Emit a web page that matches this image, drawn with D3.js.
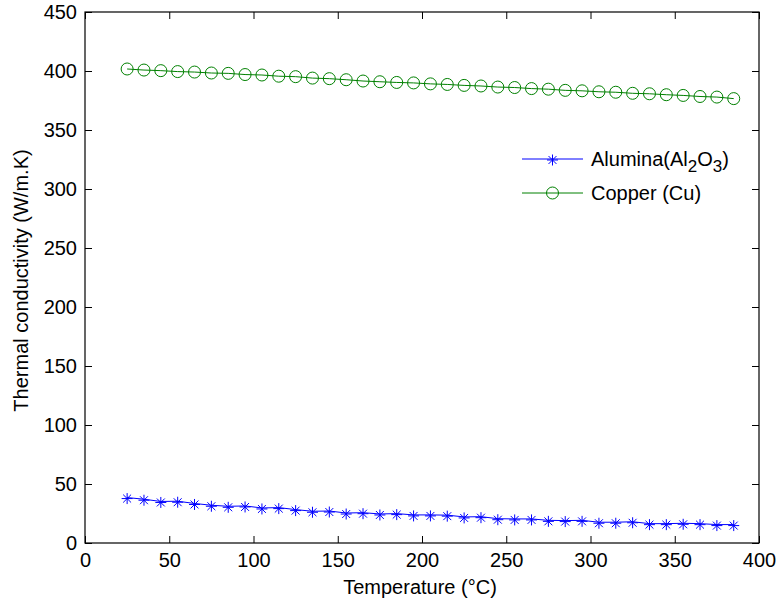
<!DOCTYPE html>
<html>
<head>
<meta charset="utf-8">
<script src="https://cdn.jsdelivr.net/npm/d3@7"></script>
<style>
  html, body { margin: 0; padding: 0; background: #fff; }
  svg { display: block; font-family: "Liberation Sans", Arial, sans-serif; }
</style>
</head>
<body>
<svg id="chart" width="781" height="602"></svg>
<script>
// ---- Data ----
const temperatures = [25, 35, 45, 55, 65, 75, 85, 95, 105, 115, 125, 135, 145, 155, 165, 175, 185, 195, 205, 215, 225, 235, 245, 255, 265, 275, 285, 295, 305, 315, 325, 335, 345, 355, 365, 375, 385];
const copperValues = [401.7, 400.8, 400.3, 399.5, 399.1, 398.3, 398.0, 397.0, 396.6, 395.6, 395.2, 394.0, 393.5, 392.6, 391.5, 390.9, 390.3, 389.9, 389.1, 388.6, 387.8, 387.3, 386.4, 386.0, 385.1, 384.6, 383.6, 383.2, 382.4, 382.0, 381.1, 380.7, 379.9, 379.3, 378.4, 377.9, 376.6];
const aluminaValues = [38.5, 37.1, 35.2, 35.4, 33.5, 32.0, 31.1, 31.4, 29.7, 30.0, 28.3, 26.9, 27.1, 25.4, 25.7, 24.6, 24.9, 23.8, 23.8, 23.6, 22.1, 22.3, 20.6, 20.4, 20.4, 19.2, 19.0, 19.2, 17.6, 17.6, 18.0, 16.4, 16.4, 16.7, 16.4, 15.6, 15.6];
const xTicks = [0, 50, 100, 150, 200, 250, 300, 350, 400];
const yTicks = [0, 50, 100, 150, 200, 250, 300, 350, 400, 450];
const xLabel = "Temperature (\u00B0C)";
const yLabel = "Thermal conductivity (W/m.K)";

// ---- Layout ----
const L = 85, R = 759, T = 12, B = 543;
const svg = d3.select("#chart");
const x = d3.scaleLinear().domain([0, 400]).range([L, R]);
const y = d3.scaleLinear().domain([0, 450]).range([B, T]);
const fs = 20;
const tickLen = 7;

const axB = svg.append("g").attr("transform", `translate(0,${B})`)
  .call(d3.axisBottom(x).tickValues(xTicks).tickSizeInner(-tickLen).tickSizeOuter(0).tickPadding(10));
const axT = svg.append("g").attr("transform", `translate(0,${T})`)
  .call(d3.axisTop(x).tickValues(xTicks).tickSizeInner(-tickLen).tickSizeOuter(0).tickFormat(""));
const axL = svg.append("g").attr("transform", `translate(${L},0)`)
  .call(d3.axisLeft(y).tickValues(yTicks).tickSizeInner(-tickLen).tickSizeOuter(0).tickPadding(8));
const axR = svg.append("g").attr("transform", `translate(${R},0)`)
  .call(d3.axisRight(y).tickValues(yTicks).tickSizeInner(-tickLen).tickSizeOuter(0).tickFormat(""));
[axB, axT, axL, axR].forEach(g => {
  g.select(".domain").remove();
  g.selectAll("line").attr("stroke", "#000").attr("stroke-width", 1);
  g.selectAll("text").attr("font-size", fs).attr("fill", "#000")
    .attr("font-family", "Liberation Sans, Arial, sans-serif");
});

// Box
svg.append("rect").attr("x", L).attr("y", T).attr("width", R - L).attr("height", B - T)
  .attr("fill", "none").attr("stroke", "#000").attr("stroke-width", 1.2);

// Axis titles
svg.append("text").attr("x", (L + R) / 2 - 2).attr("y", 594).attr("text-anchor", "middle")
  .attr("font-size", fs).text(xLabel);
svg.append("text").attr("transform", `translate(28,${(T + B) / 2 + 3}) rotate(-90)`)
  .attr("text-anchor", "middle").attr("font-size", fs).text(yLabel);

const green = "#008000", blue = "#0000ff";
const line = d3.line().x(d => x(d[0])).y(d => y(d[1]));
const copper = temperatures.map((t, i) => [t, copperValues[i]]);
const alumina = temperatures.map((t, i) => [t, aluminaValues[i]]);

// Copper
svg.append("path").datum(copper).attr("d", line).attr("fill", "none")
  .attr("stroke", green).attr("stroke-width", 1);
svg.append("g").selectAll("circle").data(copper).join("circle")
  .attr("cx", d => x(d[0])).attr("cy", d => y(d[1])).attr("r", 6)
  .attr("fill", "none").attr("stroke", green).attr("stroke-width", 1);

// Alumina
svg.append("path").datum(alumina).attr("d", line).attr("fill", "none")
  .attr("stroke", blue).attr("stroke-width", 1);
function star(g, cx, cy, s) {
  const d = s * 0.72;
  const p = `M${cx - s},${cy}L${cx + s},${cy}M${cx},${cy - s}L${cx},${cy + s}` +
            `M${cx - d},${cy - d}L${cx + d},${cy + d}M${cx - d},${cy + d}L${cx + d},${cy - d}`;
  g.append("path").attr("d", p).attr("stroke", blue).attr("stroke-width", 1).attr("fill", "none");
}
const sg = svg.append("g");
alumina.forEach(d => star(sg, x(d[0]), y(d[1]) + 1, 5.5));

// Legend
const lg = svg.append("g");
const lx0 = 522, lx1 = 583, lxm = (lx0 + lx1) / 2, tx = 591;
const r1 = 159, r2 = 193;
lg.append("line").attr("x1", lx0).attr("x2", lx1).attr("y1", r1).attr("y2", r1).attr("stroke", blue);
star(lg, lxm, r1 + 1, 5.5);
lg.append("line").attr("x1", lx0).attr("x2", lx1).attr("y1", r2).attr("y2", r2).attr("stroke", green);
lg.append("circle").attr("cx", lxm).attr("cy", r2).attr("r", 6).attr("fill", "none").attr("stroke", green);
const t1 = lg.append("text").attr("x", tx).attr("y", r1 + 7).attr("font-size", fs);
t1.append("tspan").text("Alumina(Al");
t1.append("tspan").attr("dy", 6).attr("font-size", fs * 0.85).text("2");
t1.append("tspan").attr("dy", -6).text("O");
t1.append("tspan").attr("dy", 6).attr("font-size", fs * 0.85).text("3");
t1.append("tspan").attr("dy", -6).text(")");
lg.append("text").attr("x", tx).attr("y", r2 + 7).attr("font-size", fs).text("Copper (Cu)");
</script>
</body>
</html>
